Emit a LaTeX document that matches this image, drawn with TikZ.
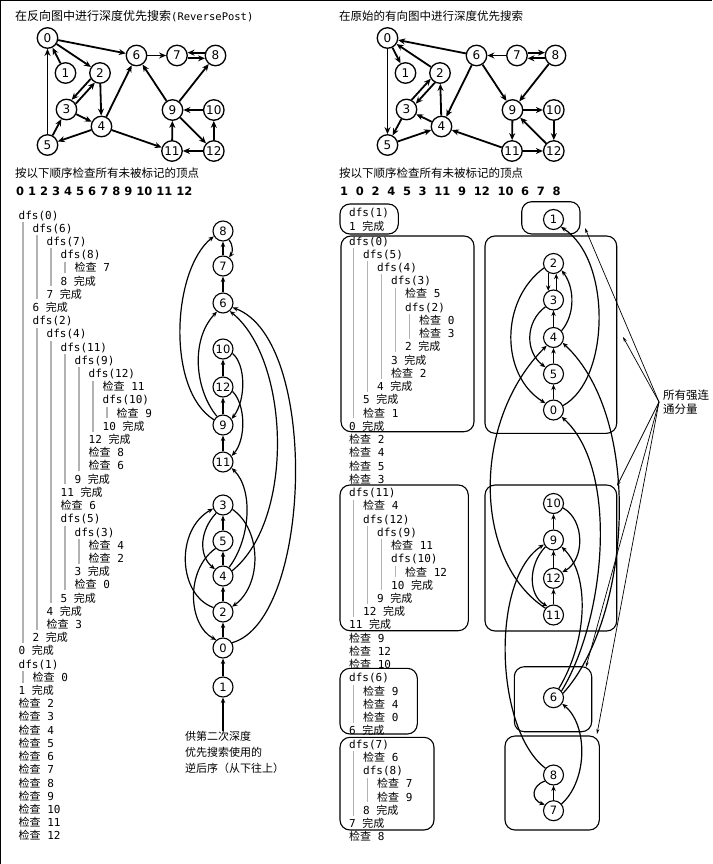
\documentclass[tikz,border=0pt]{standalone}
\usepackage{fontspec}
\usetikzlibrary{arrows.meta}
\newfontfamily\cjkf{Noto Sans CJK SC}
\newfontfamily\monof{DejaVu Sans Mono}
\newfontfamily\sansf{DejaVu Sans}
\newcommand\ck[1]{{\cjkf 检查} #1}
\newcommand\dn[1]{#1 {\cjkf 完成}}
\newcommand\df[1]{dfs(#1)}
\newcommand\gp{\hspace{7.7pt}}
\begin{document}
\begin{tikzpicture}[x=1pt,y=-1pt,
  tnode/.style={circle,draw,line width=1.3pt,minimum size=20.5pt,inner sep=0pt,font=\sansf\fontsize{12}{12}\selectfont},
  mnode/.style={circle,draw,line width=1.1pt,minimum size=20pt,inner sep=0pt,font=\sansf\fontsize{11.5}{11.5}\selectfont},
  tedge/.style={line width=1.8pt,-{Stealth[length=7pt,width=6pt]}},
  medge/.style={line width=1.2pt,-{Stealth[length=5.5pt,width=4.5pt]}},
  trace/.style={anchor=west,inner sep=0pt,font=\monof\fontsize{11}{11}\selectfont,text height=8pt,text depth=0pt},
  gbar/.style={draw=black!30,line width=1.5pt},
  cbox/.style={draw,line width=1.1pt,rounded corners=10pt},
  pointer/.style={line width=0.7pt,-{Stealth[length=5pt,width=3pt]}},
  head/.style={anchor=west,inner sep=0pt,font=\cjkf\fontsize{11.5}{11.5}\selectfont}
]
\useasboundingbox (0,0) rectangle (712,864);
\draw[line width=1.5pt] (0,864) -- (0,0) -- (712,0);

% ---------- headers ----------
\node[head,font=\cjkf\fontsize{12}{12}\selectfont] (h1) at (15,16) {在反向图中进行深度优先搜索{\monof\fontsize{10.5}{10.5}\selectfont(ReversePost)}};
\node[head] (h2) at (15,173.5) {按以下顺序检查所有未被标记的顶点};
\node[anchor=west,inner sep=0pt,font=\sansf\bfseries\fontsize{11.5}{11.5}\selectfont] (h3) at (16,191.5) {0 1 2 3 4 5 6 7 8 9 10 11 12};
\node[head] (h4) at (339,16) {在原始的有向图中进行深度优先搜索};
\node[head] (h5) at (339,173.5) {按以下顺序检查所有未被标记的顶点};
\node[anchor=west,inner sep=0pt,font=\sansf\bfseries\fontsize{11.5}{11.5}\selectfont] (h6) at (340,191.5) {1\gp0\gp2\gp4\gp5\gp3\gp11\gp9\gp12\gp10\gp6\gp7\gp8};

% ---------- top graphs ----------
\foreach \n/\x/\y in {0/47.5/38, 1/65.5/73, 2/100/73, 3/66.5/109.5, 4/101.5/126.5, 5/47.5/145, 6/136.5/55.5, 7/177/55.5, 8/215.5/55.5, 9/172.5/110, 10/213.8/110, 11/172/151, 12/213.8/151}{
  \node[tnode] (a\n) at (\x,\y) {\n};
  \node[tnode] (b\n) at (\x+340,\y) {\n};
}
\foreach \s/\e in {0/6,0/2,1/0,2/4,3/4,4/5,5/3,5/0,4/6,4/11,6/7,9/6,9/8,9/12,10/9,11/9,12/11,12/10}
  \draw[tedge] (a\s) -- (a\e);
\draw[tedge] (a2.212.5) -- (a3.62.5);
\draw[tedge] (a3.32.5) -- (a2.242.5);
\draw[tedge] (a8.165) -- (a7.15);
\draw[tedge] (a7.-15) -- (a8.195);

\foreach \s/\e in {6/0,0/1,0/5,2/0,3/5,4/3,4/2,5/4,6/4,6/9,7/6,8/9,9/10,9/11,10/12,12/9,11/12,11/4}
  \draw[tedge] (b\s) -- (b\e);
\draw[tedge] (b3.62.5) -- (b2.212.5);
\draw[tedge] (b2.242.5) -- (b3.32.5);
\draw[tedge] (b7.15) -- (b8.165);
\draw[tedge] (b8.195) -- (b7.-15);

% ---------- left trace ----------
\foreach \ii/\lv/\tx in {0/0/{\df{0}},1/1/{\df{6}},2/2/{\df{7}},3/3/{\df{8}},4/4/{\ck{7}},5/3/{\dn{8}},6/2/{\dn{7}},7/1/{\dn{6}},
  8/1/{\df{2}},9/2/{\df{4}},10/3/{\df{11}},11/4/{\df{9}},12/5/{\df{12}},13/6/{\ck{11}},14/6/{\df{10}},15/7/{\ck{9}},
  16/6/{\dn{10}},17/5/{\dn{12}},18/5/{\ck{8}},19/5/{\ck{6}},20/4/{\dn{9}},21/3/{\dn{11}},22/3/{\ck{6}},23/3/{\df{5}},
  24/4/{\df{3}},25/5/{\ck{4}},26/5/{\ck{2}},27/4/{\dn{3}},28/4/{\ck{0}},29/3/{\dn{5}},30/2/{\dn{4}},31/2/{\ck{3}},
  32/1/{\dn{2}},33/0/{\dn{0}},34/0/{\df{1}},35/1/{\ck{0}},36/0/{\dn{1}},37/0/{\ck{2}},38/0/{\ck{3}},39/0/{\ck{4}},
  40/0/{\ck{5}},41/0/{\ck{6}},42/0/{\ck{7}},43/0/{\ck{8}},44/0/{\ck{9}},45/0/{\ck{10}},46/0/{\ck{11}},47/0/{\ck{12}}}
  \node[trace] (L\ii) at (18.5+14*\lv,215+13.21*\ii) {\tx};
\foreach \lv/\s/\e in {0/0/33,1/1/7,2/2/6,3/3/5,1/8/32,2/9/30,3/10/21,4/11/20,5/12/17,6/14/16,3/23/29,4/24/27,0/34/36}
  \draw[gbar] (22.8+14*\lv,215+13.21*\s+7) -- (22.8+14*\lv,215+13.21*\e-8);

% ---------- right trace ----------
\node[trace] (R1a) at (349,212.5) {\df{1}};
\node[trace] (R1b) at (349,226) {\dn{1}};
\foreach \ii/\lv/\tx in {0/0/{\df{0}},1/1/{\df{5}},2/2/{\df{4}},3/3/{\df{3}},4/4/{\ck{5}},5/4/{\df{2}},6/5/{\ck{0}},7/5/{\ck{3}},
  8/4/{\dn{2}},9/3/{\dn{3}},10/3/{\ck{2}},11/2/{\dn{4}},12/1/{\dn{5}},13/1/{\ck{1}},14/0/{\dn{0}},15/0/{\ck{2}},
  16/0/{\ck{4}},17/0/{\ck{5}},18/0/{\ck{3}},19/0/{\df{11}},20/1/{\ck{4}},21/1/{\df{12}},22/2/{\df{9}},23/3/{\ck{11}},
  24/3/{\df{10}},25/4/{\ck{12}},26/3/{\dn{10}},27/2/{\dn{9}},28/1/{\dn{12}},29/0/{\dn{11}},30/0/{\ck{9}},31/0/{\ck{12}},
  32/0/{\ck{10}},33/0/{\df{6}},34/1/{\ck{9}},35/1/{\ck{4}},36/1/{\ck{0}},37/0/{\dn{6}},38/0/{\df{7}},39/1/{\ck{6}},
  40/1/{\df{8}},41/2/{\ck{7}},42/2/{\ck{9}},43/1/{\dn{8}},44/0/{\dn{7}},45/0/{\ck{8}}}
  \node[trace] (R\ii) at (349+14*\lv,241+13.24*\ii) {\tx};
\foreach \lv/\s/\e in {0/0/14,1/1/12,2/2/11,3/3/9,4/5/8,0/19/29,1/21/28,2/22/27,3/24/26,0/33/37,0/38/44,1/40/43}
  \draw[gbar] (353.3+14*\lv,241+13.24*\s+7) -- (353.3+14*\lv,241+13.24*\e-8);
\draw[cbox] (340,204) rectangle (398.3,234);
\draw[cbox] (341,236) rectangle (474,431.7);
\draw[cbox] (340,485) rectangle (468.3,630.7);
\draw[cbox] (340,668.3) rectangle (417.3,734);
\draw[cbox] (340,737.3) rectangle (434,830);

% ---------- middle-left graph (reverse postorder) ----------
\foreach \n/\y in {8/231,7/266,6/303,10/349,12/387,9/425,11/462,3/505,5/541,4/576,2/612,0/648,1/687}
  \node[mnode] (m\n) at (223,\y) {\n};
\foreach \s/\e in {7/8,6/7,12/10,9/12,11/9,5/3,4/5,2/4,0/2,1/0}
  \draw[medge] (m\s) -- (m\e);
\draw[medge] (m8.-55) .. controls (233,245) and (233,252) .. (m7.55);
\draw[medge] (m9.150) .. controls (166,390) and (172,270) .. (m8.-150);
\draw[medge] (m9.125) .. controls (195,390) and (190,340) .. (m6.-125);
\draw[medge] (m10.-25) .. controls (246,365) and (246,400) .. (m9.35);
\draw[medge] (m12.-25) .. controls (246,405) and (246,440) .. (m11.35);
\draw[medge] (m4.55) .. controls (250,540) and (254,490) .. (m11.-35);
\draw[medge] (m4.30) .. controls (295,520) and (290,360) .. (m6.-50);
\draw[medge] (m0.30) .. controls (312,620) and (320,340) .. (m6.-25);
\draw[medge] (m2.155) .. controls (178,595) and (175,530) .. (m3.-160);
\draw[medge] (m3.-25) .. controls (262,530) and (262,585) .. (m2.30);
\draw[medge] (m3.-130) .. controls (200,530) and (198,555) .. (m4.140);
\draw[medge] (m5.-135) .. controls (185,570) and (188,625) .. (m0.130);
\coordinate (st) at (223,731);
\draw[medge] (st) -- (m1);
\node[anchor=north west,inner sep=0pt,align=left,font=\cjkf\fontsize{11}{16}\selectfont] (lbl) at (185,731) {供第二次深度\\优先搜索使用的\\逆后序（从下往上）};

% ---------- right graph (strong components) ----------
\foreach \n/\y in {1/219.5,2/263.5,3/300,4/337.5,5/374,0/410,10/503.5,9/540,12/578.3,11/615,6/697.7,8/775,7/810.7}
  \node[mnode] (r\n) at (553.5,\y) {\n};
\draw[cbox] (521.7,201.7) rectangle (580,234);
\draw[cbox] (485,236) rectangle (616.7,433.3);
\draw[cbox] (485,485) rectangle (616.7,631);
\draw[cbox] (514.3,666.7) rectangle (591.7,731.7);
\draw[cbox] (505,736) rectangle (599.3,830);
\foreach \s/\e in {0/5,5/4,4/3,9/10,12/9,11/12,7/8}
  \draw[medge] (r\s) -- (r\e);
\draw[medge] (r2.-120) -- (r3.120);
\draw[medge] (r3.75) -- (r2.-75);
\draw[medge] (r4.40) .. controls (575,315) and (575,288) .. (r2.-40);
\draw[medge] (r3.-140) .. controls (525,322) and (525,352) .. (r5.140);
\draw[medge] (r2.-155) .. controls (500,300) and (500,375) .. (r0.140);
\draw[medge] (r0.25) .. controls (610,380) and (612,260) .. (r1.-45);
\draw[medge] (r6.40) .. controls (605,620) and (620,470) .. (r0.-40);
\draw[medge] (r6.25) .. controls (630,620) and (645,420) .. (r4.-30);
\draw[medge] (r6.60) .. controls (588,640) and (590,575) .. (r9.-40);
\draw[medge] (r7.40) .. controls (588,780) and (588,725) .. (r6.-35);
\draw[medge] (r8.140) .. controls (495,730) and (490,580) .. (r9.-155);
\draw[medge] (r8.-145) .. controls (531,786) and (531,800) .. (r7.145);
\draw[medge] (r10.-25) .. controls (585,520) and (585,560) .. (r12.35);
\draw[medge] (r9.-140) .. controls (528,565) and (528,595) .. (r11.125);
\draw[medge] (r11.140) .. controls (472,560) and (472,420) .. (r4.-130);

% ---------- label and pointers ----------
\node[anchor=west,inner sep=0pt,align=left,font=\cjkf\fontsize{11.5}{14.5}\selectfont] (lab) at (663,402) {所有强连\\通分量};
\coordinate (lp) at (659,402);
\coordinate (p1) at (585,228);
\coordinate (p2) at (623,337);
\coordinate (p3) at (617,486);
\coordinate (p4) at (586,667);
\coordinate (p5) at (597,734);
\foreach \p in {p1,p2,p3,p4,p5}
  \draw[pointer] (lp) -- (\p);
\end{tikzpicture}
\end{document}
